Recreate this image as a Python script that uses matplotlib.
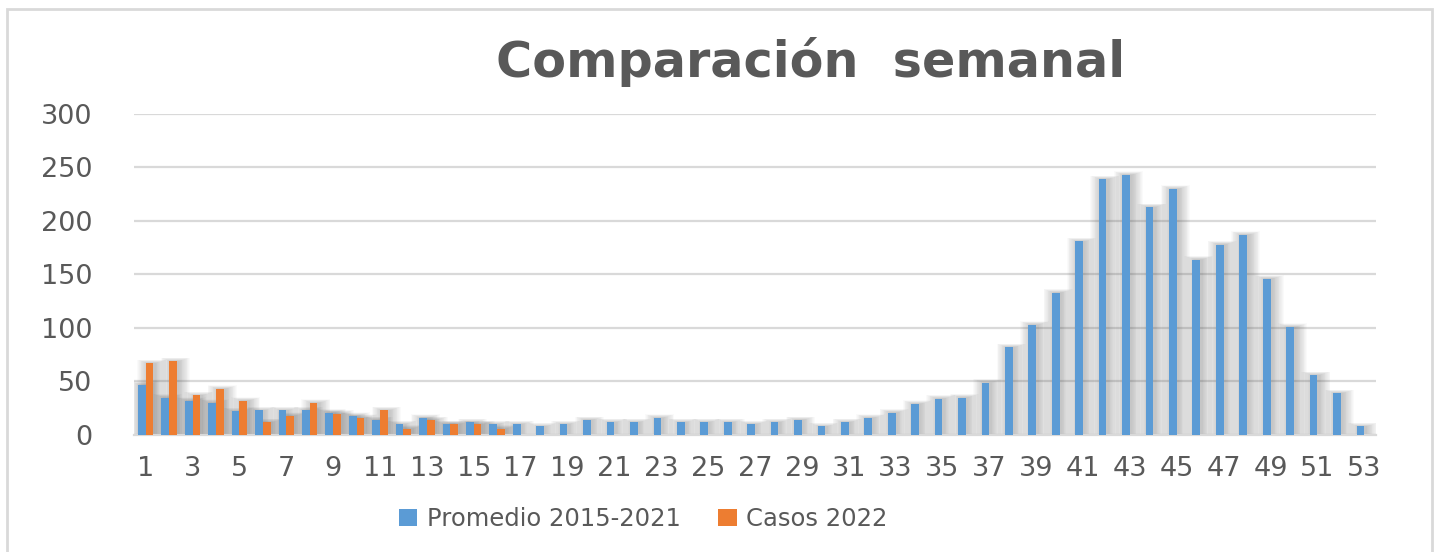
import numpy as np
import matplotlib
matplotlib.use("Agg")
import matplotlib.pyplot as plt
from matplotlib.patches import Rectangle

# weeks 1..53
weeks = list(range(1, 54))

# Promedio 2015-2021
promedio = [47, 35, 32, 30, 22, 23, 23, 23, 21, 18,
            14, 10, 16, 10, 12, 10, 10, 8, 10, 14,
            12, 12, 16, 12, 12, 12, 10, 12, 14, 8,
            12, 16, 21, 29, 34, 35, 49, 82, 103, 133,
            181, 239, 243, 213, 230, 164, 178, 187, 146, 101,
            56, 39, 8]

# Casos 2022, only up to week 16
casos = [67, 69, 37, 43, 32, 12, 18, 30, 20, 16,
         23, 6, 14, 10, 10, 6]

yticks = [0, 50, 100, 150, 200, 250, 300]
xlabels = [str(w) if w % 2 == 1 else "" for w in weeks]

blue = "#5b9bd5"
orange = "#ed7d31"
txt = "#595959"
grid = "#d9d9d9"

fig = plt.figure(figsize=(14.39, 5.52), dpi=100)
ax = fig.add_axes([0.0931, 0.212, 0.8631, 0.5815])

x = np.array(weeks, dtype=float)
xc = np.arange(1, len(casos) + 1, dtype=float)
w = 0.33

# soft drop shadow behind the bars: stacked translucent layers
for k in range(14):
    ax.bar(x - w / 2 + 0.1, np.array(promedio) + k * 0.25, width=w + k * 0.07,
           color="#606060", alpha=0.026, linewidth=0, zorder=1)
    ax.bar(xc + w / 2 + 0.1, np.array(casos) + k * 0.25, width=w + k * 0.07,
           color="#606060", alpha=0.026, linewidth=0, zorder=1)

ax.bar(x - w / 2, promedio, width=w, color=blue, linewidth=0, zorder=3,
       label="Promedio 2015-2021")
ax.bar(xc + w / 2, casos, width=w, color=orange, linewidth=0, zorder=3,
       label="Casos 2022")

ax.set_xlim(0.5, 53.5)
ax.set_ylim(0, 300)
ax.set_yticks(yticks)
ax.set_xticks(weeks)
ax.set_xticklabels(xlabels)
ax.tick_params(axis="both", length=0, labelsize=19.5, colors=txt)
ax.tick_params(axis="y", pad=30)
ax.tick_params(axis="x", pad=15)
ax.yaxis.grid(True, color=grid, linewidth=1.6, zorder=0)
ax.set_axisbelow(True)
for s in ["top", "right", "left"]:
    ax.spines[s].set_visible(False)
ax.spines["bottom"].set_color(grid)
ax.spines["bottom"].set_linewidth(1.6)

fig.text(0.563, 0.888, "Comparación  semanal", ha="center", va="center",
         fontsize=35.5, fontweight="bold", color=txt)

leg = fig.legend(loc="center", bbox_to_anchor=(0.447, 0.06), ncol=2,
                 frameon=False, fontsize=17.5, handlelength=0.75,
                 handleheight=0.75, handletextpad=0.4, columnspacing=1.55)
for t in leg.get_texts():
    t.set_color(txt)

# outer chart frame
fig.patches.append(Rectangle((7 / 1439, -0.05), (1432 - 7) / 1439, 1.05 - 9 / 552,
                             transform=fig.transFigure, fill=False,
                             edgecolor=grid, linewidth=2))

fig.savefig("out.png", dpi=100)
